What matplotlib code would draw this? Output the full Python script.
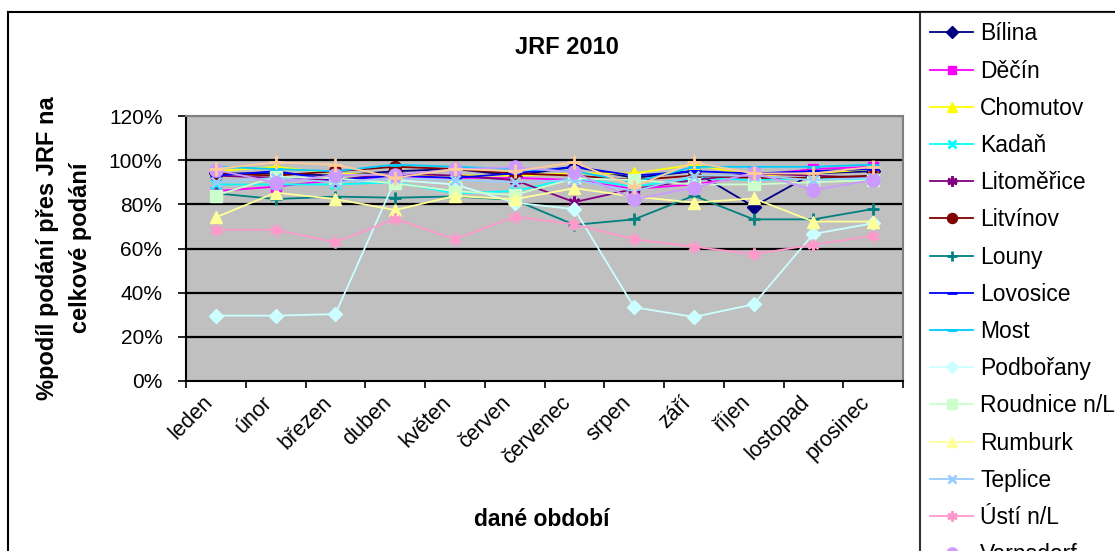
import matplotlib
matplotlib.use("Agg")
import matplotlib.pyplot as plt
from matplotlib.lines import Line2D
from matplotlib.transforms import ScaledTranslation, blended_transform_factory
import numpy as np

plt.rcParams['font.family'] = ['Liberation Sans', 'DejaVu Sans']

months = ["leden", "únor", "březen", "duben", "květen", "červen", "červenec",
          "srpen", "září", "říjen", "lostopad", "prosinec"]

bilina      = [94, 94, 93, 95, 96, 93, 97, 92, 95, 79, 94, 95]
decin       = [86, 88, 91, 92, 92, 92, 91, 87, 89, 93, 96, 97]
chomutov    = [95, 97, 94, 93, 93, 93, 94, 94, 98, 93, 94, 96]
kadan       = [89, 89, 89, 90, 85, 86, 92, 88, 92, 91, 92, 91]
litomerice  = [93, 92, 91, 94, 93, 91, 81, 87, 91, 94, 93, 92]
litvinov    = [94, 93, 95, 97, 96, 94, 93, 91, 93, 92, 92, 93]
louny       = [85, 82.4, 83.5, 83, 83.6, 82, 70.7, 73.2, 83.9, 73.2, 73.2, 77.9]
lovosice    = [93, 95, 91, 93, 92, 94, 97, 93, 95, 94, 95, 96]
most        = [97, 96, 95, 98, 97, 96, 95, 90, 97, 97, 97, 98]
podborany   = [29.6, 29.6, 30.3, 91, 89, 80.8, 77.8, 33.4, 29, 34.7, 66.6, 71.4]
roudnice    = [84, 92.5, 91.8, 89.5, 86, 84.2, 91.8, 91, 89, 89, 90, 91]
rumburk     = [74.1, 85.3, 82.4, 77.4, 83.8, 82.3, 87.3, 83.5, 80.8, 82.7, 72.2, 72.2]
teplice     = [90, 92, 90, 92, 91, 90, 91, 86, 93, 93, 91, 92]
usti        = [68.5, 68.5, 62.8, 73.5, 64.2, 74.4, 71, 64.2, 60.8, 57.4, 61.7, 65.8]
varnsdorf   = [95.6, 89.8, 93.3, 93.3, 95.9, 96.8, 94.5, 82.3, 87.6, 94.3, 86.5, 91]
zatec       = [96, 99, 98, 92, 96, 95, 99, 88, 99, 94, 94, 97]

names = ["Bílina", "Děčín", "Chomutov", "Kadaň", "Litoměřice", "Litvínov", "Louny",
         "Lovosice", "Most", "Podbořany", "Roudnice n/L", "Rumburk", "Teplice",
         "Ústí n/L", "Varnsdorf", "Žatec"]
series = [bilina, decin, chomutov, kadan, litomerice, litvinov, louny, lovosice,
          most, podborany, roudnice, rumburk, teplice, usti, varnsdorf, zatec]
colors = ["#000080", "#FF00FF", "#FFFF00", "#00FFFF", "#800080", "#800000", "#008080",
          "#0000FF", "#00CCFF", "#CCFFFF", "#CCFFCC", "#FFFF99", "#99CCFF",
          "#FF99CC", "#CC99FF", "#FFCC99"]
asterisk = (6, 2, 0)
markers = ["D", "s", "^", "x", asterisk, "o", "+", "_", "_", "D", "s", "^", "x",
           asterisk, "o", "+"]
msizes = [7.5, 7.5, 8.5, 6.5, 8.5, 8.5, 8.5, 8, 9, 7.5, 8.5, 8.5, 6.5, 8.5, 9.5, 9.5]

W, H = 1115, 551
fig = plt.figure(figsize=(W / 100, H / 100), dpi=100)

# outer chart frame (left and top edges visible)
fig.add_artist(Line2D([8 / W, 8 / W], [0, 1 - 12 / H], color="black", lw=1.5,
                      transform=fig.transFigure))
fig.add_artist(Line2D([8 / W, 1], [1 - 12 / H, 1 - 12 / H], color="black", lw=1.5,
                      transform=fig.transFigure))

L, R, T, B = 186, 903, 116, 381
ax = fig.add_axes([L / W, 1 - B / H, (R - L) / W, (B - T) / H])
ax.set_facecolor("#C0C0C0")

x = np.arange(len(months))
for name, vals, c, m, ms in zip(names, series, colors, markers, msizes):
    mew = 2.0 if m in ("_", "+", "x") or m == asterisk else 1.0
    ax.plot(x, np.array(vals) / 100.0, color=c, lw=1.3, marker=m, markersize=ms,
            markerfacecolor=c, markeredgecolor=c, markeredgewidth=mew, label=name)

ax.set_xlim(-0.5, len(months) - 0.5)
ax.set_ylim(0, 1.2)
yt = np.arange(0, 1.21, 0.2)
ax.set_yticks(yt)
ax.set_yticklabels([f"{int(round(v * 100))}%" for v in yt], fontsize=15)
for v in yt[1:-1]:
    ax.axhline(v, color="black", lw=1.6, zorder=0.5)
ax.axhline(1.2, color="#808080", lw=1.6, zorder=0.5)

ax.set_xticks(np.arange(-0.5, len(months), 1.0))
ax.set_xticklabels([])
ax.tick_params(axis="x", which="major", length=5, width=1.2, direction="out")
ax.tick_params(axis="y", length=6, width=1.2, direction="out", pad=11)

# category labels, rotated 45 degrees below the axis
base = blended_transform_factory(ax.transData, ax.transAxes)
shift = ScaledTranslation(-14 / 100, -11 / 100, fig.dpi_scale_trans)
for i, m in enumerate(months):
    ax.text(x[i], 0, m, transform=base + shift, rotation=45, ha="right", va="top",
            rotation_mode="anchor", fontsize=15.5, clip_on=False)

for s in ("left", "bottom"):
    ax.spines[s].set_color("black")
    ax.spines[s].set_linewidth(1.5)
for s in ("top", "right"):
    ax.spines[s].set_color("#808080")
    ax.spines[s].set_linewidth(1.5)

fig.text(567 / W, 1 - 48 / H, "JRF 2010", ha="center", va="center",
         fontsize=17, fontweight="bold")
fig.text(64 / W, 1 - 248 / H, "%podíl podání přes JRF na\ncelkové podání",
         ha="center", va="center", rotation=90, fontsize=17, fontweight="bold",
         linespacing=1.6)
fig.text(542 / W, 1 - 519 / H, "dané období", ha="center", va="center",
         fontsize=16.5, fontweight="bold")

leg = fig.legend(loc="upper left", bbox_to_anchor=(920 / W, 1 - 12 / H),
                 bbox_transform=fig.transFigure, borderaxespad=0, fontsize=16.5,
                 frameon=True, fancybox=False, handlelength=1.85, handletextpad=0.33,
                 labelspacing=0.62, borderpad=0.45, markerscale=0.85)
leg.get_frame().set_edgecolor("black")
leg.get_frame().set_linewidth(1.5)

fig.savefig("out.png", dpi=100)
